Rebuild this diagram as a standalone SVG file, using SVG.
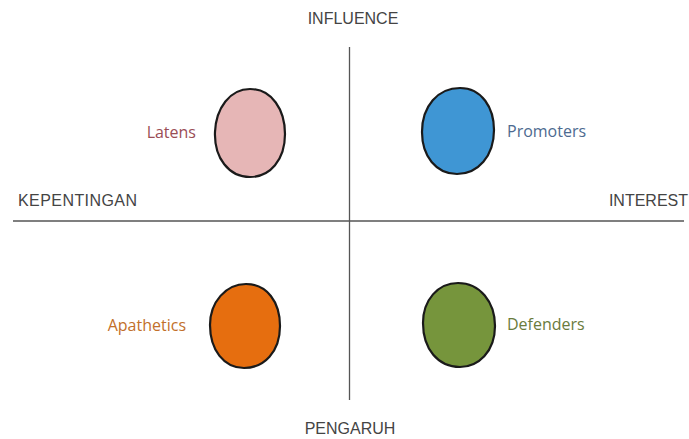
<svg xmlns="http://www.w3.org/2000/svg" width="689" height="439" viewBox="0 0 689 439">
<style>
.axis{stroke:#555;stroke-width:1.3;fill:none}
.lbl{font-family:"Liberation Sans","DejaVu Sans",sans-serif;font-size:16px;fill:#444}
.node{stroke:#1a1a1a;stroke-width:2.2}
.nt{font-family:"Open Sans","Liberation Sans",sans-serif;font-size:16px}
</style>
<rect width="689" height="439" fill="#fff"/>
<g id="connectors">
<line class="axis" x1="349.5" y1="47" x2="349.5" y2="400"/>
<line class="axis" x1="13" y1="221" x2="684" y2="221"/>
</g>
<g id="axis-labels">
<text class="lbl" x="353" y="24" text-anchor="middle">INFLUENCE</text>
<text class="lbl" x="18" y="206" textLength="119">KEPENTINGAN</text>
<text class="lbl" x="688" y="206" text-anchor="end">INTEREST</text>
<text class="lbl" x="350" y="434" text-anchor="middle">PENGARUH</text>
</g>
<g id="latens">
<path class="node" d="M250,89 C272,89 285,110 285,134 C285,160 270,177 250,177 C229,177 214,158 215,132 C216,108 230,89 250,89 Z" fill="#e6b6b6"/>
<text class="nt" x="196" y="138" text-anchor="end" fill="#9a4d55">Latens</text>
</g>
<g id="promoters">
<path class="node" d="M460,88 C482,88 494,108 494,130 C494,156 478,174 457,174 C436,174 422,156 422,132 C422,106 438,88 460,88 Z" fill="#3f96d4"/>
<text class="nt" x="507" y="137" fill="#4d6a90">Promoters</text>
</g>
<g id="apathetics">
<path class="node" d="M246,284 C267,284 280,302 280,326 C280,352 264,368 244,368 C224,368 210,350 210,325 C210,302 226,284 246,284 Z" fill="#e66e0f"/>
<text class="nt" x="186" y="331" text-anchor="end" fill="#c2702a">Apathetics</text>
</g>
<g id="defenders">
<path class="node" d="M458,283 C480,283 495,302 495,326 C495,352 478,367 460,367 C438,367 423,349 423,323 C423,300 438,283 458,283 Z" fill="#76953c"/>
<text class="nt" x="507" y="330" fill="#6a7b3c">Defenders</text>
</g>
</svg>
